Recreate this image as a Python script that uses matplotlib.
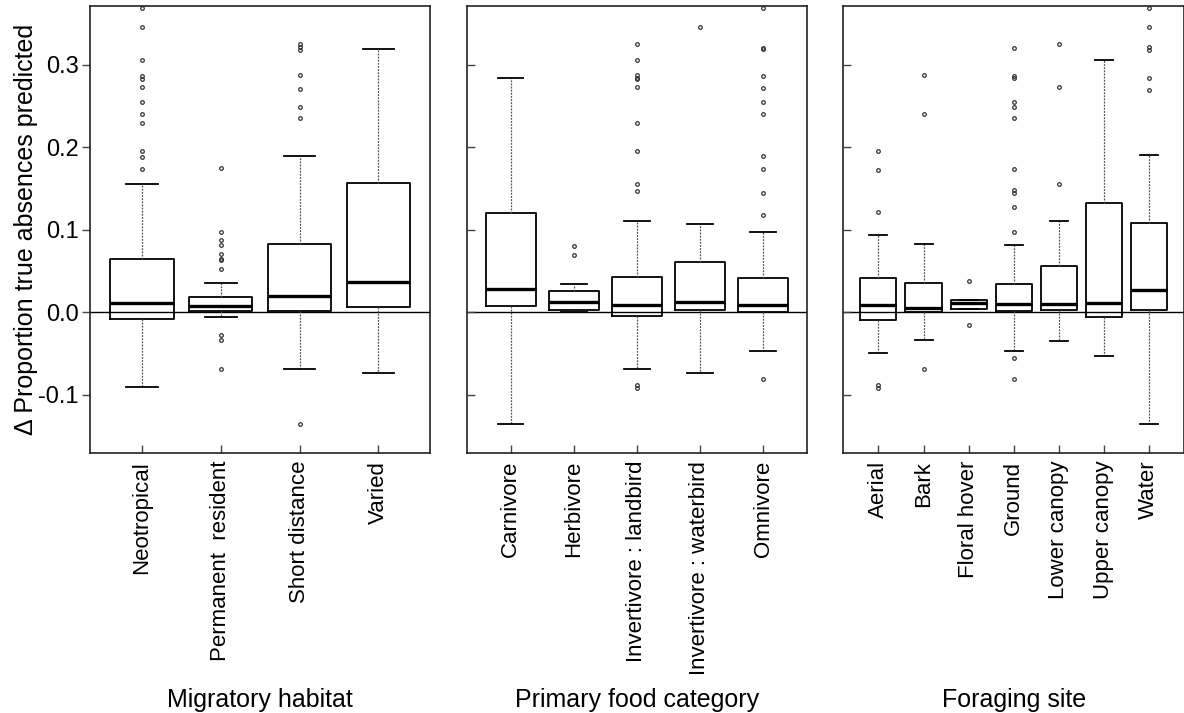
import matplotlib.pyplot as plt

plt.rcParams['font.family'] = ['Liberation Sans', 'DejaVu Sans']

# Migratory habitat
mig_cats = ["Neotropical", "Permanent  resident", "Short distance", "Varied"]
mig_q1 = [-0.0077, 0.002, 0.0016, 0.0061]
mig_med = [0.0113, 0.008, 0.0198, 0.0364]
mig_q3 = [0.065, 0.019, 0.083, 0.1572]
mig_lo = [-0.0909, -0.006, -0.069, -0.0735]
mig_hi = [0.1556, 0.035, 0.189, 0.3196]
mig_out = [
    [0.369, 0.346, 0.306, 0.286, 0.283, 0.273, 0.255, 0.240, 0.229, 0.195, 0.188, 0.174],
    [0.175, 0.097, 0.087, 0.081, 0.070, 0.065, 0.063, 0.0525, -0.028, -0.034, -0.069],
    [0.325, 0.322, 0.318, 0.288, 0.271, 0.249, 0.235, -0.136],
    [],
]

# Primary food category
food_cats = ["Carnivore", "Herbivore", "Invertivore : landbird",
             "Invertivore : waterbird", "Omnivore"]
food_q1 = [0.0073, 0.0024, -0.0048, 0.0024, 0.0]
food_med = [0.0287, 0.0121, 0.0093, 0.0125, 0.0093]
food_q3 = [0.1208, 0.0255, 0.0424, 0.0606, 0.042]
food_lo = [-0.1358, 0.0, -0.0687, -0.0735, -0.0465]
food_hi = [0.284, 0.0347, 0.110, 0.107, 0.097]
food_out = [
    [],
    [0.080, 0.069],
    [0.325, 0.306, 0.288, 0.284, 0.283, 0.273, 0.229, 0.195, 0.155, 0.147, -0.0877, -0.0913],
    [0.346],
    [0.369, 0.320, 0.319, 0.286, 0.272, 0.255, 0.240, 0.189, 0.174, 0.145, 0.1176, -0.081],
]

# Foraging site
site_cats = ["Aerial", "Bark", "Floral hover", "Ground", "Lower canopy",
             "Upper canopy", "Water"]
site_q1 = [-0.0093, 0.0008, 0.0036, 0.0012, 0.0024, -0.006, 0.0024]
site_med = [0.0085, 0.0057, 0.0117, 0.0101, 0.0105, 0.0113, 0.0267]
site_q3 = [0.042, 0.035, 0.0145, 0.0347, 0.0566, 0.1325, 0.1087]
site_lo = [-0.049, -0.034, 0.0036, -0.0465, -0.0347, -0.0525, -0.1358]
site_hi = [0.094, 0.083, 0.0145, 0.081, 0.110, 0.3055, 0.191]
site_out = [
    [0.195, 0.172, 0.121, -0.0885, -0.0913],
    [0.288, 0.240, -0.0687],
    [0.038, -0.015],
    [0.320, 0.286, 0.284, 0.255, 0.249, 0.235, 0.174, 0.148, 0.145, 0.127, 0.097, -0.056, -0.081],
    [0.325, 0.273, 0.155],
    [],
    [0.369, 0.346, 0.321, 0.318, 0.284, 0.270],
]

panels = [
    ("Migratory habitat", mig_cats, mig_q1, mig_med, mig_q3, mig_lo, mig_hi, mig_out),
    ("Primary food category", food_cats, food_q1, food_med, food_q3, food_lo, food_hi, food_out),
    ("Foraging site", site_cats, site_q1, site_med, site_q3, site_lo, site_hi, site_out),
]

fig = plt.figure(figsize=(11.84, 7.13), dpi=100)
lefts = [0.0760, 0.3942, 0.7123]
width = 0.2875
bottom, height = 0.3653, 0.6259
edge = '#222222'

for i, (xlab, cats, q1, med, q3, lo, hi, out) in enumerate(panels):
    ax = fig.add_axes([lefts[i], bottom, width, height])
    stats = []
    for j in range(len(cats)):
        stats.append(dict(med=med[j], q1=q1[j], q3=q3[j], whislo=lo[j],
                          whishi=hi[j], fliers=out[j]))
    n = len(cats)
    ax.bxp(stats, positions=range(1, n + 1), widths=0.8, capwidths=0.4,
           boxprops=dict(color='black', linewidth=1.3),
           medianprops=dict(color='black', linewidth=2.4),
           whiskerprops=dict(color='#555555', linewidth=0.9, linestyle=(0, (1.5, 1))),
           capprops=dict(color='black', linewidth=1.3),
           flierprops=dict(marker='o', markersize=2.6, markerfacecolor='none',
                           markeredgecolor='#333333', markeredgewidth=0.9))
    ax.axhline(0, color='black', linewidth=1.0, zorder=0)
    pad = 0.04 * n
    ax.set_xlim(0.5 - pad, n + 0.5 + pad)
    ax.set_ylim(-0.1701, 0.3709)
    ax.set_xticks(range(1, n + 1))
    ax.set_xticklabels(cats, rotation=90, fontsize=16)
    ax.tick_params(axis='x', direction='in', length=6, width=1, pad=6, color='#444444')
    ax.set_yticks([-0.1, 0.0, 0.1, 0.2, 0.3])
    if i == 0:
        ax.set_yticklabels(['-0.1', '0.0', '0.1', '0.2', '0.3'], fontsize=17)
        ax.tick_params(axis='y', direction='out', length=6, width=1, pad=2, color='#444444')
        ax.set_ylabel("\u0394 Proportion true absences predicted", fontsize=18)
        ax.yaxis.set_label_coords(-0.153, 0.5)
    else:
        ax.set_yticklabels([])
        ax.tick_params(axis='y', direction='in', length=6, width=1, color='#444444')
    for s in ax.spines.values():
        s.set_color(edge)
        s.set_linewidth(1.2)
    fig.text(lefts[i] + width / 2, 0.018, xlab, ha='center', va='center', fontsize=18)

fig.savefig('out.png', dpi=100)
